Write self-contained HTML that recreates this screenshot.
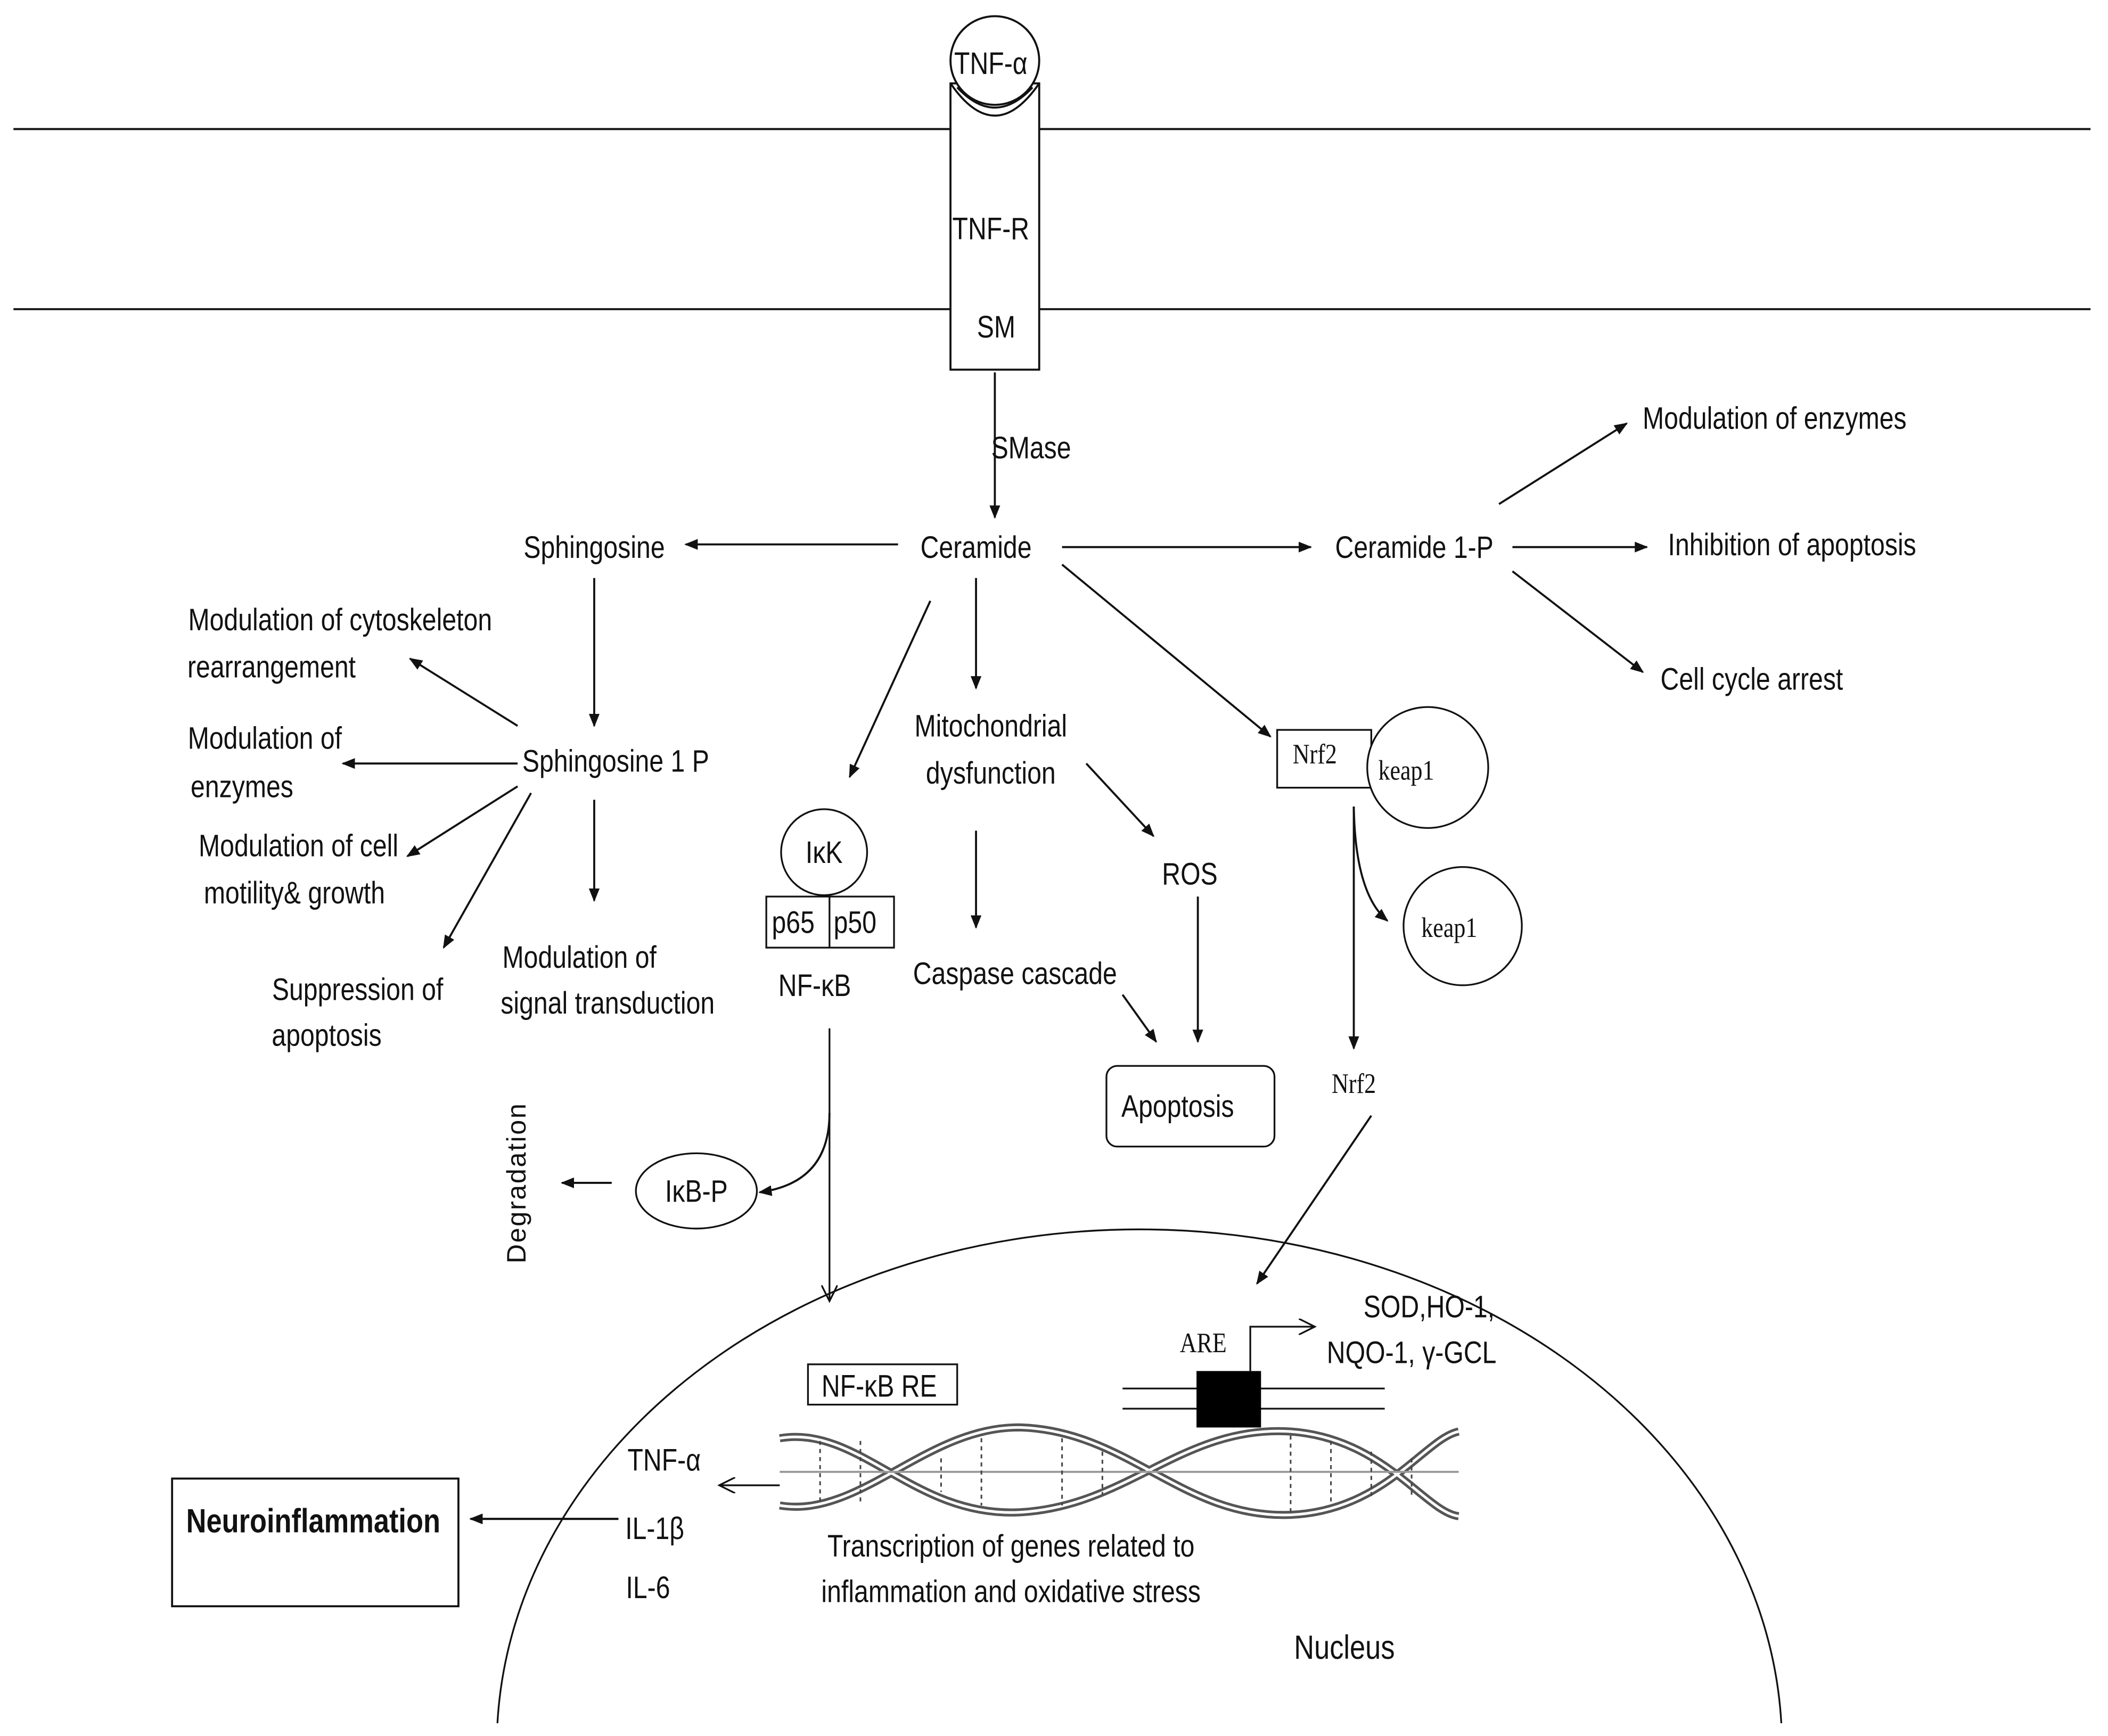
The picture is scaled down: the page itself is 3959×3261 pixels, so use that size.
<!DOCTYPE html>
<html><head><meta charset="utf-8"><style>
html,body{margin:0;padding:0;background:#fff;}
svg{display:block;}
text{font-family:"Liberation Sans",sans-serif;font-size:23px;fill:#111;}
.s{font-family:"Liberation Serif",serif;}
</style></head><body>
<svg width="3959" height="3261" viewBox="0 0 1568 1291.5" xmlns="http://www.w3.org/2000/svg">
<defs><marker id="a" markerWidth="10" markerHeight="10" refX="9" refY="5" orient="auto" markerUnits="userSpaceOnUse"><path d="M0,1 L10,5 L0,9 z" fill="#111"/></marker>
<marker id="o" markerWidth="14" markerHeight="12" refX="12" refY="6" orient="auto" markerUnits="userSpaceOnUse"><path d="M0,0 L12,6 L0,12" fill="none" stroke="#111" stroke-width="1.3"/></marker></defs>
<g stroke="#111" stroke-width="1.5" fill="none">
<line x1="10" y1="96" x2="1555" y2="96"/><line x1="10" y1="230" x2="1555" y2="230"/>
<rect x="707" y="62" width="66" height="213" fill="#fff"/>
<path d="M707,62 Q740,110 773,62"/>
<circle cx="740" cy="45" r="33" fill="#fff"/>
<path d="M712,65 Q740,95 768,65"/>
</g>
<g stroke="#111" stroke-width="1.5" fill="none" marker-end="url(#a)">
<line x1="740" y1="277" x2="740" y2="385"/>
<line x1="668" y1="405" x2="510" y2="405"/>
<line x1="790" y1="407" x2="975" y2="407"/>
<line x1="1115" y1="375" x2="1210" y2="315"/>
<line x1="1125" y1="407" x2="1225" y2="407"/>
<line x1="1125" y1="425" x2="1222" y2="500"/>
<line x1="442" y1="430" x2="442" y2="540"/>
<line x1="385" y1="540" x2="305" y2="490"/>
<line x1="385" y1="568" x2="255" y2="568"/>
<line x1="385" y1="585" x2="303" y2="637"/>
<line x1="395" y1="590" x2="330" y2="705"/>
<line x1="442" y1="595" x2="442" y2="670"/>
<line x1="692" y1="447" x2="632" y2="578"/>
<line x1="726" y1="430" x2="726" y2="512"/>
<line x1="808" y1="568" x2="858" y2="622"/>
<line x1="891" y1="667" x2="891" y2="775"/>
<line x1="726" y1="618" x2="726" y2="690"/>
<line x1="835" y1="740" x2="860" y2="775"/>
<line x1="790" y1="420" x2="945" y2="548"/>
<path d="M1007,600 Q1008,665 1032,685"/>
<line x1="1007" y1="600" x2="1007" y2="780"/>
<line x1="1020" y1="830" x2="935" y2="955"/>
<path d="M617,828 Q617,880 565,887"/>
<line x1="455" y1="880" x2="418" y2="880"/>
<line x1="350" y1="1130" x2="460" y2="1130" marker-end="none"/>
<line x1="460" y1="1130" x2="350" y2="1130"/>
</g>
<g stroke="#111" stroke-width="1.3" fill="none">
<line x1="617" y1="765" x2="617" y2="968" marker-end="url(#o)"/>
<line x1="580" y1="1105" x2="535" y2="1105" marker-end="url(#o)"/>
<path d="M930,1020 L930,987 L978,987" marker-end="url(#o)"/>
<path d="M370,1282 A478,385 0 0 1 1325,1282"/>
<circle cx="613" cy="634" r="32"/>
<rect x="570" y="667" width="95" height="38"/><line x1="617" y1="667" x2="617" y2="705"/>
<rect x="823" y="793" width="125" height="60" rx="8"/>
<rect x="950" y="543" width="70" height="43"/>
<circle cx="1062" cy="571" r="45" fill="#fff"/>
<circle cx="1088" cy="689" r="44"/>
<ellipse cx="518" cy="886" rx="45" ry="28"/>
<rect x="601" y="1015" width="111" height="30"/>
<rect x="128" y="1100" width="213" height="95" stroke-width="1.5"/>
<line x1="835" y1="1033" x2="1030" y2="1033"/><line x1="835" y1="1048" x2="1030" y2="1048"/>
</g>
<rect x="890" y="1020" width="48" height="42" fill="#000"/>
<g fill="none" stroke="#555" stroke-width="6">
<path d="M580,1070 C640,1060 680,1130 760,1125 C840,1120 880,1060 960,1065 C1030,1070 1060,1125 1085,1128"/>
<path d="M580,1120 C640,1130 690,1060 760,1062 C840,1065 880,1130 960,1127 C1030,1124 1060,1070 1085,1065"/>
</g>
<g fill="none" stroke="#fff" stroke-width="2"><path d="M580,1070 C640,1060 680,1130 760,1125 C840,1120 880,1060 960,1065 C1030,1070 1060,1125 1085,1128"/>
<path d="M580,1120 C640,1130 690,1060 760,1062 C840,1065 880,1130 960,1127 C1030,1124 1060,1070 1085,1065"/></g>
<line x1="580" y1="1095" x2="1085" y2="1095" stroke="#999" stroke-width="1.5"/>
<g stroke="#444" stroke-width="1.2" stroke-dasharray="3,3">
<line x1="610" y1="1072" x2="610" y2="1118"/><line x1="640" y1="1072" x2="640" y2="1118"/><line x1="700" y1="1085" x2="700" y2="1110"/><line x1="730" y1="1070" x2="730" y2="1120"/><line x1="790" y1="1070" x2="790" y2="1120"/><line x1="820" y1="1080" x2="820" y2="1112"/><line x1="990" y1="1072" x2="990" y2="1120"/><line x1="1020" y1="1080" x2="1020" y2="1115"/><line x1="1050" y1="1085" x2="1050" y2="1112"/><line x1="960" y1="1068" x2="960" y2="1125"/>
</g>
<g text-anchor="middle">
<text transform="translate(737,55) scale(0.83,1)">TNF-α</text>
<text transform="translate(737,178) scale(0.83,1)">TNF-R</text>
<text transform="translate(741,251) scale(0.83,1)">SM</text>
<text transform="translate(767,341) scale(0.83,1)">SMase</text>
<text transform="translate(726,415) scale(0.83,1)">Ceramide</text>
<text transform="translate(442,415) scale(0.83,1)">Sphingosine</text>
<text transform="translate(1052,415) scale(0.83,1)">Ceramide 1-P</text>
<text transform="translate(1320,319) scale(0.83,1)">Modulation of enzymes</text>
<text transform="translate(1333,413) scale(0.83,1)">Inhibition of apoptosis</text>
<text transform="translate(1303,513) scale(0.83,1)">Cell cycle arrest</text>
<text transform="translate(458,574) scale(0.83,1)">Sphingosine 1 P</text>
<text transform="translate(253,469) scale(0.83,1)">Modulation of cytoskeleton</text>
<text transform="translate(202,504) scale(0.83,1)">rearrangement</text>
<text transform="translate(197,557) scale(0.83,1)">Modulation of</text>
<text transform="translate(180,593) scale(0.83,1)">enzymes</text>
<text transform="translate(222,637) scale(0.83,1)">Modulation of cell</text>
<text transform="translate(219,672) scale(0.83,1)">motility&amp; growth</text>
<text transform="translate(266,744) scale(0.83,1)">Suppression of</text>
<text transform="translate(243,778) scale(0.83,1)">apoptosis</text>
<text transform="translate(431,720) scale(0.83,1)">Modulation of</text>
<text transform="translate(452,754) scale(0.83,1)">signal transduction</text>
<text transform="translate(613,642) scale(0.83,1)">IκK</text>
<text transform="translate(590,694) scale(0.83,1)">p65</text>
<text transform="translate(636,694) scale(0.83,1)">p50</text>
<text transform="translate(606,741) scale(0.83,1)">NF-κB</text>
<text transform="translate(737,548) scale(0.83,1)">Mitochondrial</text>
<text transform="translate(737,583) scale(0.83,1)">dysfunction</text>
<text transform="translate(885,658) scale(0.83,1)">ROS</text>
<text transform="translate(755,732) scale(0.83,1)">Caspase cascade</text>
<text transform="translate(876,831) scale(0.83,1)">Apoptosis</text>
<text class="s" transform="translate(978,568) scale(0.83,1)" style="font-size:21px">Nrf2</text>
<text class="s" transform="translate(1046,580) scale(0.83,1)" style="font-size:21px">keap1</text>
<text class="s" transform="translate(1078,697) scale(0.83,1)" style="font-size:21px">keap1</text>
<text class="s" transform="translate(1007,813) scale(0.83,1)" style="font-size:21px">Nrf2</text>
<text transform="translate(518,894) scale(0.83,1)">IκB-P</text>
<text transform="translate(391,880) rotate(-90)" style="font-size:20px;letter-spacing:1px">Degradation</text>
<text transform="translate(654,1039) scale(0.83,1)">NF-κB RE</text>
<text class="s" transform="translate(895,1006) scale(0.83,1)" style="font-size:21px">ARE</text>
<text transform="translate(1063,980) scale(0.83,1)">SOD,HO-1,</text>
<text transform="translate(1050,1014) scale(0.83,1)">NQO-1, γ-GCL</text>
<text transform="translate(494,1094) scale(0.83,1)">TNF-α</text>
<text transform="translate(487,1145) scale(0.83,1)">IL-1β</text>
<text transform="translate(482,1189) scale(0.83,1)">IL-6</text>
<text transform="translate(233,1140) scale(0.83,1)" style="font-weight:bold;font-size:25px">Neuroinflammation</text>
<text transform="translate(752,1158) scale(0.83,1)">Transcription of genes related to</text>
<text transform="translate(752,1192) scale(0.83,1)">inflammation and oxidative stress</text>
<text transform="translate(1000,1234) scale(0.83,1)" style="font-size:25px">Nucleus</text>
</g>
</svg>
</body></html>
